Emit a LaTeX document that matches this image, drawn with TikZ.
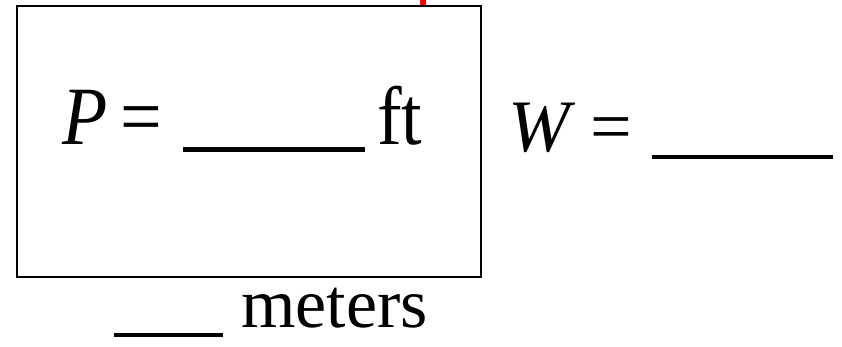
\documentclass[tikz,border=0pt]{standalone}
\usepackage{fontspec}
\setmainfont{Liberation Serif}
\usetikzlibrary{positioning}
\newcommand{\tall}[1]{\scalebox{1}[1.12]{#1}}

\begin{document}
\begin{tikzpicture}[
    x=1pt, y=1pt,
    txt/.style={inner sep=0pt, anchor=base west, font=\fontsize{74}{80}\selectfont},
    unit/.style={inner sep=0pt, anchor=base west, font=\fontsize{70}{76}\selectfont},
    blank/.style={line width=5pt},
    frame/.style={draw, line width=1.6pt}
]
    \useasboundingbox (0,0) rectangle (842,347);

    % Box
    \draw[frame] (17,70) rectangle (481,341);
    \fill[red] (420,342) rectangle (426,347);

    % Perimeter
    \node[txt] at (62,202) (pname) {\tall{\textit{P}}};
    \node[txt] at (120,202) (peq) {\tall{=}};
    \draw[blank] (183,197) -- (365,197);
    \node[txt] at (377,202) (pft) {\tall{ft}};

    % Width
    \node[txt] at (508,195) (wname) {\textit{W}};
    \node[txt] at (590,195) (weq) {=};
    \draw[blank, line width=4pt] (652,190) -- (833,190);

    % Side
    \draw[blank, line width=4pt] (114,12) -- (223,12);
    \node[unit] at (241,19) (side) {meters};
\end{tikzpicture}
\end{document}
